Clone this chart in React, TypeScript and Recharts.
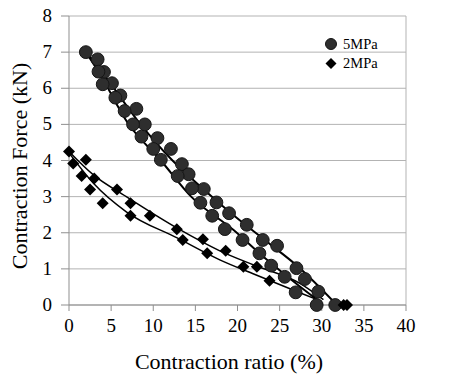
import React from 'react';
import {
  ComposedChart,
  XAxis,
  YAxis,
  CartesianGrid,
  Scatter,
  Line,
  ReferenceLine,
  Customized,
} from 'recharts';

// ---- tick labels ----
const xTicks = [0, 5, 10, 15, 20, 25, 30, 35, 40];
const yTicks = [0, 1, 2, 3, 4, 5, 6, 7, 8];

// ---- 5MPa measurements (two runs) ----
const ratio5A = [2.0, 3.4, 4.15, 5.1, 6.1, 8.0, 9.0, 10.5, 12.1, 13.4, 14.2, 16.0, 17.5, 19.0, 21.1, 23.0, 24.7, 27.0, 28.0, 29.6, 31.6];
const force5A = [7.0, 6.8, 6.45, 6.14, 5.8, 5.43, 5.0, 4.62, 4.32, 3.9, 3.62, 3.21, 2.84, 2.54, 2.22, 1.8, 1.64, 1.02, 0.72, 0.37, 0.0];
const ratio5B = [3.5, 4.0, 5.5, 6.6, 7.6, 8.6, 10.0, 10.9, 12.9, 14.6, 15.6, 17.0, 18.5, 20.6, 22.6, 24.0, 25.6, 26.9, 29.4];
const force5B = [6.46, 6.11, 5.74, 5.37, 5.0, 4.66, 4.32, 4.02, 3.57, 3.23, 2.83, 2.47, 2.1, 1.8, 1.43, 1.09, 0.78, 0.35, 0.0];

// ---- 2MPa measurements (two runs) ----
const ratio2A = [0.0, 2.0, 3.0, 5.7, 7.3, 9.6, 12.8, 15.9, 18.6, 22.3, 32.6];
const force2A = [4.25, 4.02, 3.5, 3.2, 2.82, 2.47, 2.1, 1.82, 1.5, 1.06, 0.0];
const ratio2B = [0.5, 1.5, 2.5, 4.0, 7.3, 13.5, 16.4, 20.7, 23.8, 33.0];
const force2B = [3.92, 3.57, 3.2, 2.82, 2.47, 1.8, 1.43, 1.06, 0.67, 0.0];

// ---- trend lines ----
const trend5AX = [2.0, 4.0, 8.4, 12.2, 16.0, 19.5, 23.5, 27.4, 31.6];
const trend5AY = [7.0, 6.42, 5.03, 4.02, 3.2, 2.49, 1.75, 1.02, 0.05];
const trend5BX = [2.0, 3.6, 7.0, 10.9, 14.5, 19.5, 23.5, 27.4, 30.0];
const trend5BY = [7.0, 6.42, 5.03, 4.0, 3.0, 2.08, 1.25, 0.51, 0.05];
const trend2AX = [0.0, 2.9, 6.8, 12.9, 17.9, 22.0, 27.4, 30.2];
const trend2AY = [4.25, 3.6, 3.0, 2.12, 1.5, 1.1, 0.6, 0.15];
const trend2BX = [0.2, 2.9, 6.8, 12.9, 17.9, 22.0, 27.4, 30.0];
const trend2BY = [4.15, 3.37, 2.58, 1.85, 1.25, 0.85, 0.34, 0.1];

const zip = (xs: number[], ys: number[]) => xs.map((x, i) => ({ x, y: ys[i] }));

const pts5A = zip(ratio5A, force5A);
const pts5B = zip(ratio5B, force5B);
const pts2A = zip(ratio2A, force2A);
const pts2B = zip(ratio2B, force2B);
const tr5A = zip(trend5AX, trend5AY);
const tr5B = zip(trend5BX, trend5BY);
const tr2A = zip(trend2AX, trend2AY);
const tr2B = zip(trend2BX, trend2BY);

const FONT = '"Liberation Serif", "Times New Roman", Times, "DejaVu Serif", serif';
const txt = (size: number): React.CSSProperties => ({ fontFamily: FONT, fontSize: size, fill: '#000' });
const CIRCLE_FILL = '#2e2e2e';

const CircleShape = (props: any) => {
  const { cx, cy } = props;
  if (cx == null || cy == null) return null;
  return <circle cx={cx} cy={cy} r={6.4} fill={CIRCLE_FILL} stroke="#151515" strokeWidth={1} />;
};

const DiamondShape = (props: any) => {
  const { cx, cy } = props;
  if (cx == null || cy == null) return null;
  const s = 6;
  return (
    <polygon
      points={`${cx},${cy - s} ${cx + s},${cy} ${cx},${cy + s} ${cx - s},${cy}`}
      fill="#000"
    />
  );
};

const XTick = (props: any) => {
  const { x, y, payload } = props;
  return (
    <text x={x} y={y + 14} textAnchor="middle" style={txt(19)}>
      {payload.value}
    </text>
  );
};

const YTick = (props: any) => {
  const { x, y, payload } = props;
  return (
    <text x={x} y={y + 6} textAnchor="end" style={txt(19)}>
      {payload.value}
    </text>
  );
};

const Decorations = () => (
  <g>
    <text x={229} y={369} textAnchor="middle" style={txt(22)}>
      Contraction ratio (%)
    </text>
    <text x={0} y={0} transform="translate(27,166) rotate(-90)" textAnchor="middle" style={txt(22)}>
      Contraction Force (kN)
    </text>
    <circle cx={331} cy={44} r={5.5} fill={CIRCLE_FILL} stroke="#151515" />
    <text x={343} y={49} style={txt(14.5)}>5MPa</text>
    <polygon points="331,58 336.5,63.5 331,69 325.5,63.5" fill="#000" />
    <text x={343} y={68} style={txt(14.5)}>2MPa</text>
  </g>
);

export default function App() {
  return (
    <div style={{ position: 'absolute', left: 0, top: 0, width: 455, height: 389, background: '#fff' }}>
      <ComposedChart width={455} height={389} margin={{ top: 16, right: 49, left: 0, bottom: 0 }}>
        <CartesianGrid horizontal vertical={false} stroke="#b3b3b3" strokeWidth={1} />
        <XAxis
          type="number"
          dataKey="x"
          domain={[0, 40]}
          ticks={xTicks}
          interval={0}
          height={84}
          tickSize={6}
          tickMargin={7}
          stroke="#8f8f8f"
          tick={XTick}
        />
        <YAxis
          type="number"
          dataKey="y"
          domain={[0, 8]}
          ticks={yTicks}
          interval={0}
          width={69}
          tickSize={8}
          tickMargin={9}
          stroke="#8f8f8f"
          tick={YTick}
        />
        <ReferenceLine x={40} stroke="#b3b3b3" />
        <Scatter data={pts5A} dataKey="y" shape={CircleShape} isAnimationActive={false} />
        <Scatter data={pts5B} dataKey="y" shape={CircleShape} isAnimationActive={false} />
        <Scatter data={pts2A} dataKey="y" shape={DiamondShape} isAnimationActive={false} />
        <Scatter data={pts2B} dataKey="y" shape={DiamondShape} isAnimationActive={false} />
        <Line data={tr5A} dataKey="y" type="monotone" stroke="#000" strokeWidth={2} dot={false} isAnimationActive={false} />
        <Line data={tr5B} dataKey="y" type="monotone" stroke="#000" strokeWidth={2} dot={false} isAnimationActive={false} />
        <Line data={tr2A} dataKey="y" type="monotone" stroke="#000" strokeWidth={1.5} dot={false} isAnimationActive={false} />
        <Line data={tr2B} dataKey="y" type="monotone" stroke="#000" strokeWidth={1.5} dot={false} isAnimationActive={false} />
        <Customized component={Decorations} />
      </ComposedChart>
    </div>
  );
}
